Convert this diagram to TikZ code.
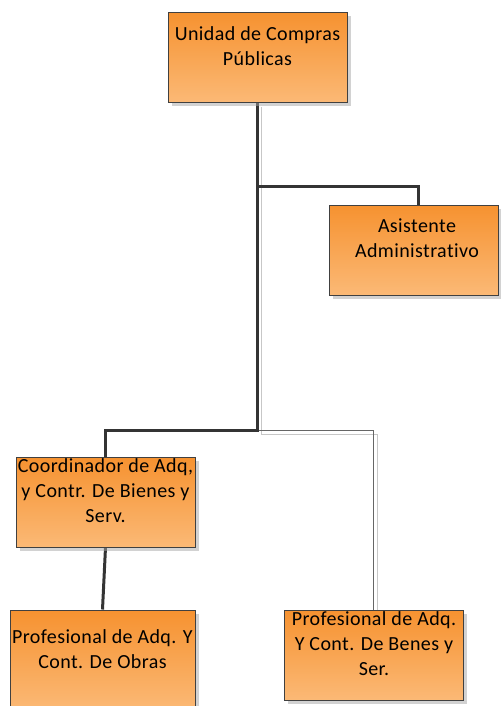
\documentclass[tikz,border=0pt]{standalone}
\usepackage{fontspec}
\setmainfont[LetterSpace=2,Ligatures={NoCommon}]{Carlito}
\usepackage{tikz}
\usetikzlibrary{shadows,backgrounds}

\definecolor{unitTop}{RGB}{246,146,48}
\definecolor{unitBottom}{RGB}{251,185,118}
\definecolor{edgeGray}{RGB}{52,52,52}

\begin{document}
\begin{tikzpicture}[x=0.75pt, y=-0.75pt,
		unit_style/.style={draw=black!75, line width=0.75pt, top color=unitTop, bottom color=unitBottom,
			minimum width=134.25pt, minimum height=67.5pt, inner sep=0pt,
			drop shadow={shadow xshift=3pt, shadow yshift=-3pt, fill=black!35}},
		text_style/.style={align=center, anchor=north, inner sep=0pt, font=\fontsize{15pt}{18.75pt}\selectfont},
		edge_style/.style={draw=edgeGray, line width=2.25pt},
		edge_thin_style/.style={draw=black!60, line width=0.75pt,
			preaction={draw=black!22, line width=0.75pt, transform canvas={shift={(3pt,-3pt)}}}}]

		\useasboundingbox (0,0) rectangle (500,706);

		% boxes
		\node[unit_style] (ucp) at (257.5,57.5) {};
		\node[unit_style, minimum width=126.75pt] (asist) at (413.5,250) {};
		\node[unit_style] (coord) at (105.5,502) {};
		\node[unit_style, minimum width=138.75pt, minimum height=75pt] (obras) at (102.5,660) {};
		\node[unit_style] (benes) at (373.5,655) {};

		% texts
		\node[text_style] (ucp_t) at (257.5,26) {Unidad de Compras\\Públicas};
		\node[text_style] (asist_t) at (417,218) {Asistente\\Administrativo};
		\node[text_style] (coord_t) at (105.5,458) {Coordinador de Adq,\\y Contr. De Bienes y\\Serv.};
		\node[text_style] (obras_t) at (102.5,629) {Profesional de Adq. Y\\Cont. De Obras};
		\node[text_style] (benes_t) at (374,611) {Profesional de Adq.\\Y Cont. De Benes y\\Ser.};

		% connectors
		\coordinate (ucp_asist) at (257.5,186);
		\coordinate (ucp_low) at (257.5,430);
		\begin{pgfonlayer}{background}
			\draw[edge_thin_style] (ucp.south) -- (ucp_low) -| (benes.north);
			\draw[edge_style] (ucp.south) -- (ucp_low) -| (coord.north);
			\draw[edge_style] (ucp_asist) -| ([xshift=3.5pt]asist.north);
			\draw[edge_style] (coord.south) -- (obras.north);
		\end{pgfonlayer}

\end{tikzpicture}
\end{document}
